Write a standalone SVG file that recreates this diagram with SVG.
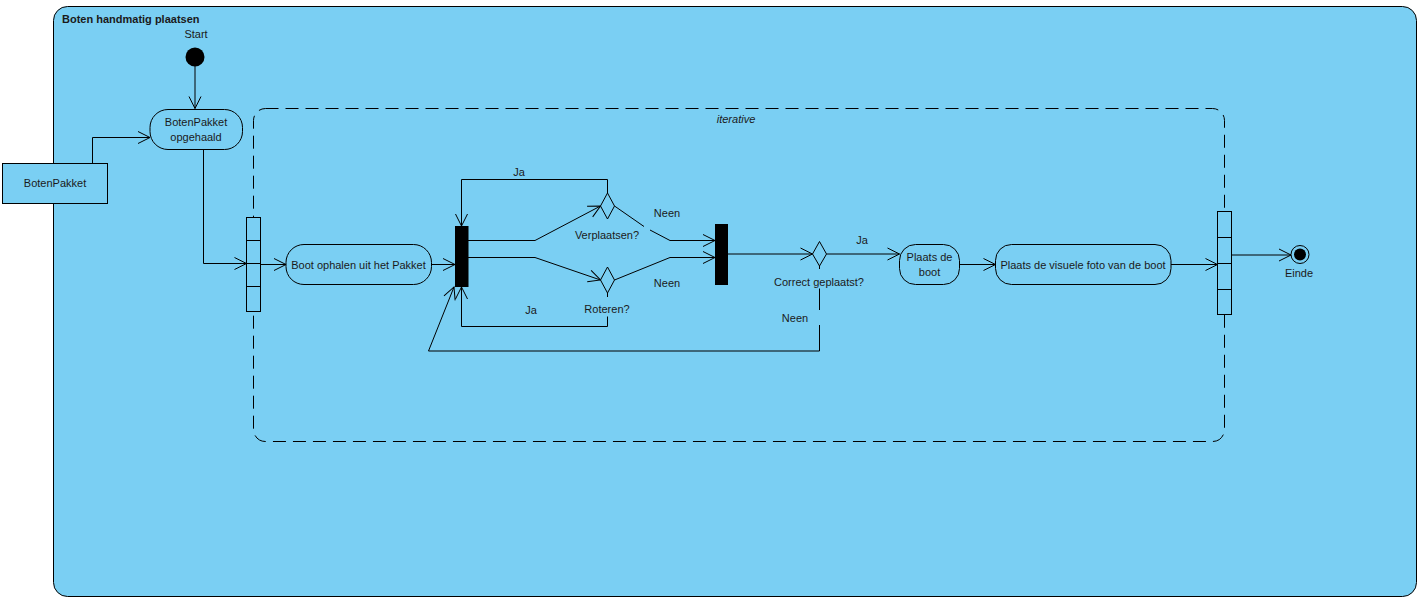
<svg xmlns="http://www.w3.org/2000/svg" width="1421" height="604" viewBox="0 0 1421 604">
<defs>
<marker id="arr" markerUnits="userSpaceOnUse" markerWidth="14" markerHeight="14" refX="12" refY="6" orient="auto" overflow="visible">
<path d="M0,0 L12,6 L0,12" fill="none" stroke="#000" stroke-width="1"/>
</marker>
<style>
text{font-family:"Liberation Sans",Arial,sans-serif;font-size:11px;fill:#1a1a1a}
.c{text-anchor:middle}
.ln{fill:none;stroke:#000;stroke-width:1}
.ar{fill:none;stroke:#000;stroke-width:1;marker-end:url(#arr)}
.node{fill:#7acff3;stroke:#000;stroke-width:1}
.bar{fill:#000;stroke:#000}
</style>
</defs>
<rect width="1421" height="604" fill="#fff"/>
<g id="frame">
<rect x="53.5" y="6.5" width="1363" height="590" rx="14" fill="#7acff3" stroke="#000" stroke-width="1"/>
<text x="62" y="23" style="font-weight:bold">Boten handmatig plaatsen</text>
</g>
<g id="iterative">
<rect x="253.5" y="108.5" width="971" height="333" rx="12" fill="none" stroke="#000" stroke-width="1" stroke-dasharray="13,7"/>
<text x="736" y="123" class="c" style="font-style:italic">iterative</text>
</g>
<g id="connectors">
<path class="ar" d="M195,66 V108.5"/>
<path class="ar" d="M92.5,163.5 V137.5 H150"/>
<path class="ar" d="M203.5,149 V263.5 H246.5"/>
<path class="ar" d="M260.5,264.5 H286"/>
<path class="ar" d="M431.5,264.5 H455"/>
<path class="ar" d="M468,240.5 H535 L600.5,206"/>
<path class="ar" d="M468,257.5 H535 L600.5,280"/>
<path class="ar" d="M607.5,193 V179.5 H461.5 V226"/>
<path class="ln" d="M607.5,293 V297"/>
<path class="ar" d="M607.5,316.5 V326.5 H461.5 V287"/>
<path class="ln" d="M614.5,206 L644,226.5"/>
<path class="ar" d="M650,230 L670,240.5 H715"/>
<path class="ar" d="M614.5,280 L670,257.5 H715"/>
<path class="ar" d="M727.5,254 H812.5"/>
<path class="ln" d="M819.5,266 V269"/>
<path class="ln" d="M819.5,288.5 V310"/>
<path class="ar" d="M819.5,325 V351 H428.5 L454,287"/>
<path class="ar" d="M826.5,254 H899.5"/>
<path class="ar" d="M959.5,264.5 H995.5"/>
<path class="ar" d="M1171,264.5 H1217.5"/>
<path class="ar" d="M1231.5,255 H1291"/>
</g>
<g id="start">
<circle cx="195" cy="57" r="9.5" fill="#000"/>
<text x="196" y="38" class="c">Start</text>
</g>
<g id="botenpakket-obj">
<rect class="node" x="2.5" y="163.5" width="105" height="40"/>
<text x="55" y="187" class="c">BotenPakket</text>
</g>
<g id="opgehaald">
<rect class="node" x="150" y="109.5" width="92.5" height="40" rx="18"/>
<text x="196" y="126" class="c">BotenPakket</text>
<text x="196" y="141" class="c">opgehaald</text>
</g>
<g id="pins-in">
<rect class="node" x="246.5" y="217.5" width="14" height="94"/>
<path class="ln" d="M246.5,240.5 H260.5 M246.5,263.5 H260.5 M246.5,286.5 H260.5"/>
</g>
<g id="boot-ophalen">
<rect class="node" x="286" y="244.5" width="145.5" height="40" rx="18"/>
<text x="358.5" y="268.5" class="c">Boot ophalen uit het Pakket</text>
</g>
<g id="fork1">
<rect class="bar" x="455.5" y="226.5" width="12.5" height="60"/>
</g>
<g id="verplaatsen">
<path class="node" d="M607.5,193 L614.5,206 L607.5,219 L600.5,206 Z"/>
<text x="607" y="239" class="c">Verplaatsen?</text>
<text x="519" y="176" class="c">Ja</text>
<text x="667" y="217" class="c">Neen</text>
</g>
<g id="roteren">
<path class="node" d="M607.5,267 L614.5,280 L607.5,293 L600.5,280 Z"/>
<text x="607" y="313" class="c">Roteren?</text>
<text x="531" y="314" class="c">Ja</text>
<text x="667" y="287" class="c">Neen</text>
</g>
<g id="join2">
<rect class="bar" x="715.5" y="224.5" width="12" height="60"/>
</g>
<g id="correct">
<path class="node" d="M819.5,241.5 L826.5,254 L819.5,266 L812.5,254 Z"/>
<text x="819" y="286" class="c">Correct geplaatst?</text>
<text x="862" y="244" class="c">Ja</text>
<text x="795" y="322" class="c">Neen</text>
</g>
<g id="plaats-boot">
<rect class="node" x="899.5" y="244.5" width="60" height="40" rx="16"/>
<text x="929.5" y="261" class="c">Plaats de</text>
<text x="929.5" y="276" class="c">boot</text>
</g>
<g id="plaats-foto">
<rect class="node" x="995.5" y="244.5" width="175.5" height="40" rx="16"/>
<text x="1083" y="268.5" class="c">Plaats de visuele foto van de boot</text>
</g>
<g id="pins-out">
<rect class="node" x="1217.5" y="211.5" width="14" height="103"/>
<path class="ln" d="M1217.5,237.5 H1231.5 M1217.5,263.5 H1231.5 M1217.5,289.5 H1231.5"/>
</g>
<g id="einde">
<circle cx="1300" cy="254.5" r="9" fill="#7acff3" stroke="#000"/>
<circle cx="1300" cy="254.5" r="6" fill="#000"/>
<text x="1299" y="277" class="c">Einde</text>
</g>
</svg>
